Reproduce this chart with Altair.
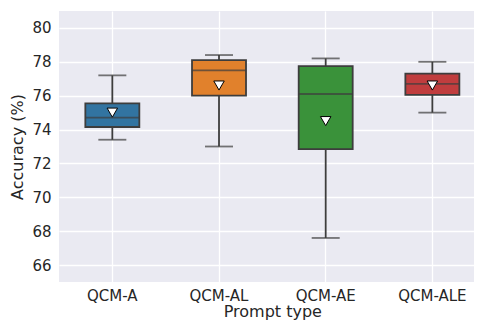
import altair as alt
import pandas as pd

categories = ["QCM-A", "QCM-AL", "QCM-AE", "QCM-ALE"]
whisker_low = [73.4, 73.0, 67.6, 75.0]
q1 = [74.15, 76.0, 72.85, 76.05]
median = [74.7, 77.5, 76.1, 76.7]
q3 = [75.55, 78.1, 77.75, 77.3]
whisker_high = [77.2, 78.4, 78.2, 78.0]
means = [75.0, 76.6, 74.5, 76.6]
colors = ["#3274a1", "#e1812c", "#3a923a", "#c03d3e"]
y_ticks = [66, 68, 70, 72, 74, 76, 78, 80]

df = pd.DataFrame({
    "cat": categories, "lo": whisker_low, "q1": q1, "med": median,
    "q3": q3, "hi": whisker_high, "mean": means,
})

FONT = "DejaVu Sans"
LINE = "#3d3d3d"
LW = 1.8

x = alt.X(
    "cat:N", sort=categories, title="Prompt type",
    scale=alt.Scale(range=[0, 426.7], paddingInner=0, paddingOuter=0),
    axis=alt.Axis(labelAngle=0, bandPosition=0.5),
)
yscale = alt.Scale(domain=[65, 81], nice=False, zero=False)
y_axis = alt.Axis(values=y_ticks, title="Accuracy (%)", labelOverlap=False)


def Y(field):
    return alt.Y(field, scale=yscale, axis=y_axis, title="Accuracy (%)")


base = alt.Chart(df)

whisk = base.mark_rule(color=LINE, strokeWidth=LW).encode(
    x=x, y=Y("lo:Q"), y2="hi:Q")
caps_lo = base.mark_tick(color=LINE, size=28, thickness=LW).encode(x=x, y=Y("lo:Q"))
caps_hi = base.mark_tick(color=LINE, size=28, thickness=LW).encode(x=x, y=Y("hi:Q"))
box = base.mark_bar(size=54, stroke=LINE, strokeWidth=LW, opacity=1).encode(
    x=x, y=Y("q1:Q"), y2="q3:Q",
    color=alt.Color("cat:N", sort=categories,
                    scale=alt.Scale(domain=categories, range=colors), legend=None))
med = base.mark_tick(color=LINE, size=54, thickness=LW).encode(x=x, y=Y("med:Q"))
mean_pt = base.mark_point(shape="triangle-down", filled=True, fill="white",
                          stroke="black", strokeWidth=1, size=110, opacity=1).encode(
    x=x, y=Y("mean:Q"))

chart = alt.layer(whisk, caps_lo, caps_hi, box, med, mean_pt).properties(
    width=415, height=271,
    autosize=alt.AutoSizeParams(type="none"),
    padding={"left": 51, "top": 3, "right": 0, "bottom": 40},
).configure_view(
    fill="#eaeaf2", stroke="#eaeaf2", strokeWidth=0,
).configure_axis(
    grid=True, gridColor="white", gridWidth=1.3, domain=False, ticks=False,
    labelFont=FONT, titleFont=FONT, labelFontSize=15, titleFontSize=16,
    labelColor="#262626", titleColor="#262626", titleFontWeight="normal",
    labelPadding=8,
).configure_axisY(titlePadding=6).configure_axisX(labelPadding=6, titlePadding=0)

chart.save("out.html", embed_options={"renderer": "svg", "actions": False})
